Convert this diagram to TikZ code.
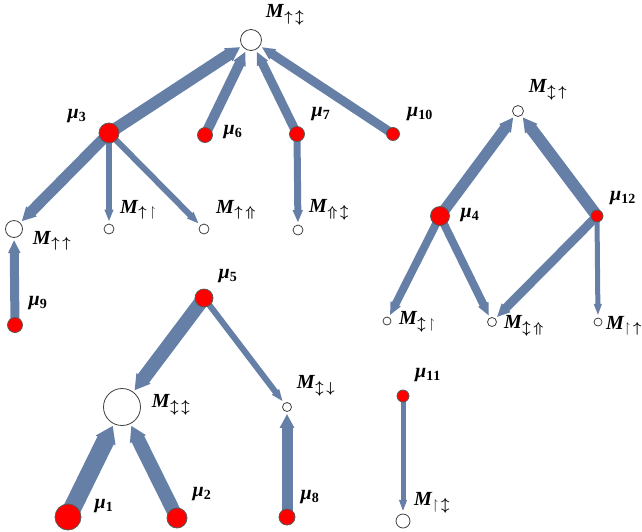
\documentclass[tikz,border=0pt]{standalone}
\usepackage{amsmath}
\usepackage{amssymb}
\usepackage{fontspec}
\setmainfont{Liberation Serif}
\usetikzlibrary{arrows.meta,backgrounds}
\definecolor{flowblue}{RGB}{101,127,166}
\newcommand{\Mlab}[1]{\textbf{\textit{M}}$_{\boldsymbol{#1}}$}
\newcommand{\mulab}[1]{\textbf{\textit{μ}}$_{\mathbf{#1}}$}

\begin{document}
\begin{tikzpicture}[x=1pt,y=-1pt,
  munode/.style={circle,fill=red,draw=black!65,line width=0.8pt,inner sep=0pt},
  mnode/.style={circle,fill=white,draw=black!75,line width=0.8pt,inner sep=0pt},
  flow/.style={draw=flowblue,shorten >=2pt,-{Triangle[length=10pt 0.35,width=2pt 1.05]}},
  lab/.style={font=\fontsize{20}{22}\selectfont}]
          \useasboundingbox (0,0) rectangle (642,531);

          \node[mnode,minimum size=21pt] (mtop) at (251,40) {};
          \node[lab] at (285,15) {\Mlab{\uparrow\,\updownarrow}};
          \node[munode,minimum size=20pt] (mu3) at (109,133) {};
          \node[lab] at (77,116) {\mulab{3}};
          \node[munode,minimum size=15pt] (mu6) at (205,135) {};
          \node[lab] at (233,132) {\mulab{6}};
          \node[munode,minimum size=15pt] (mu7) at (297,134) {};
          \node[lab] at (321,114) {\mulab{7}};
          \node[munode,minimum size=13pt] (mu10) at (393,134) {};
          \node[lab] at (420,114) {\mulab{10}};

          \node[mnode,minimum size=17pt] (muu) at (14,229) {};
          \node[lab] at (52,241) {\Mlab{\uparrow\,\uparrow}};
          \node[mnode,minimum size=10pt] (muh) at (109,229) {};
          \node[lab] at (138,210) {\Mlab{\uparrow\,\upharpoonright}};
          \node[mnode,minimum size=10pt] (muU) at (204,229) {};
          \node[lab] at (236,210) {\Mlab{\uparrow\,\Uparrow}};
          \node[mnode,minimum size=10pt] (mUd) at (298,230) {};
          \node[lab] at (329,210) {\Mlab{\Uparrow\,\updownarrow}};
          \node[munode,minimum size=15pt] (mu9) at (15,325) {};
          \node[lab] at (38,303) {\mulab{9}};

          \node[munode,minimum size=18pt] (mu5) at (204,298) {};
          \node[lab] at (228,276) {\mulab{5}};
          \node[mnode,minimum size=37pt] (mdd) at (122,407) {};
          \node[lab] at (171,405) {\Mlab{\updownarrow\,\updownarrow}};
          \node[mnode,minimum size=9pt] (mddown) at (287,407) {};
          \node[lab] at (316,386) {\Mlab{\updownarrow\,\downarrow}};
          \node[munode,minimum size=26pt] (mu1) at (68,517) {};
          \node[lab] at (104,506) {\mulab{1}};
          \node[munode,minimum size=20pt] (mu2) at (177,518) {};
          \node[lab] at (202,494) {\mulab{2}};
          \node[munode,minimum size=16pt] (mu8) at (287,517) {};
          \node[lab] at (310,497) {\mulab{8}};

          \node[munode,minimum size=12pt] (mu11) at (403,396) {};
          \node[lab] at (428,375) {\mulab{11}};
          \node[mnode,minimum size=14pt] (mhd) at (403,521) {};
          \node[lab] at (432,503) {\Mlab{\upharpoonright\,\updownarrow}};

          \node[mnode,minimum size=11pt] (mdu) at (518,111) {};
          \node[lab] at (548,90) {\Mlab{\updownarrow\,\uparrow}};
          \node[munode,minimum size=19pt] (mu4) at (440,216) {};
          \node[lab] at (470,215) {\mulab{4}};
          \node[munode,minimum size=12pt] (mu12) at (597,216) {};
          \node[lab] at (623,198) {\mulab{12}};
          \node[mnode,minimum size=8pt] (mdh) at (387,321) {};
          \node[lab] at (417,322) {\Mlab{\updownarrow\,\upharpoonright}};
          \node[mnode,minimum size=9pt] (mdU) at (492,322) {};
          \node[lab] at (524,326) {\Mlab{\updownarrow\,\Uparrow}};
          \node[mnode,minimum size=8pt] (mhu) at (598,322) {};
          \node[lab] at (624,326) {\Mlab{\upharpoonright\,\uparrow}};

          \begin{scope}[on background layer]
          \draw[flow,line width=12pt] (mu3.center) -- (mtop);
          \draw[flow,line width=10pt] (mu6.center) -- (mtop);
          \draw[flow,line width=9pt] (mu7.center) -- (mtop);
          \draw[flow,line width=9pt] (mu10.center) -- (mtop);
          \draw[flow,line width=11pt] (mu3.center) -- (muu);
          \draw[flow,line width=6pt] (mu3.center) -- (muh);
          \draw[flow,line width=6pt] (mu3.center) -- (muU);
          \draw[flow,line width=7pt] (mu7.center) -- (mUd);
          \draw[flow,line width=9pt] (mu9.center) -- (muu);
          \draw[flow,line width=14pt] (mu5.center) -- (mdd);
          \draw[flow,line width=6pt] (mu5.center) -- (mddown);
          \draw[flow,line width=18pt] (mu1.center) -- (mdd);
          \draw[flow,line width=14pt] (mu2.center) -- (mdd);
          \draw[flow,line width=11pt] (mu8.center) -- (mddown);
          \draw[flow,line width=5pt] (mu11.center) -- (mhd);
          \draw[flow,line width=11pt] (mu4.center) -- (mdu);
          \draw[flow,line width=12pt] (mu12.center) -- (mdu);
          \draw[flow,line width=8pt] (mu4.center) -- (mdh);
          \draw[flow,line width=8pt] (mu4.center) -- (mdU);
          \draw[flow,line width=9pt] (mu12.center) -- (mdU);
          \draw[flow,line width=5pt] (mu12.center) -- (mhu);
          \end{scope}
\end{tikzpicture}
\end{document}
